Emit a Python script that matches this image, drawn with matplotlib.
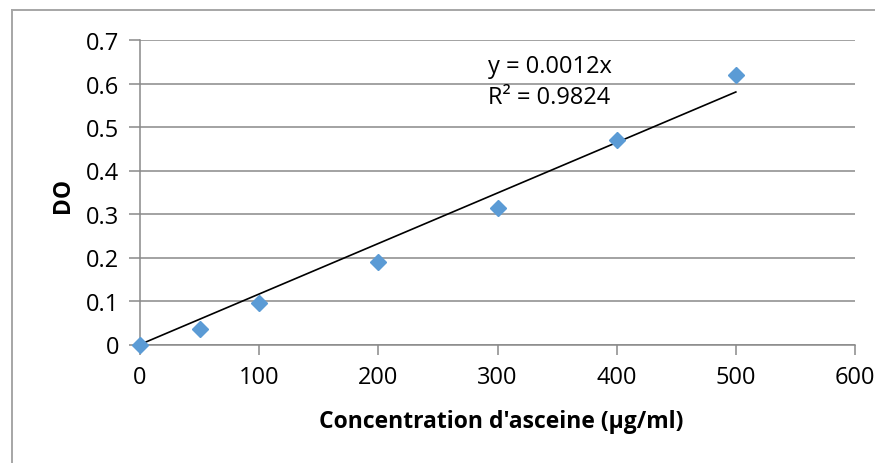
import matplotlib
matplotlib.use("Agg")
import matplotlib.pyplot as plt
from matplotlib.lines import Line2D
import numpy as np

plt.rcParams['font.family'] = ['Open Sans', 'DejaVu Sans']

concentration = [0, 50, 100, 200, 300, 400, 500]
do_values = [0.0, 0.035, 0.095, 0.19, 0.314, 0.47, 0.62]
x_ticks = [0, 100, 200, 300, 400, 500, 600]
y_ticks = [0, 0.1, 0.2, 0.3, 0.4, 0.5, 0.6, 0.7]
y_tick_labels = ['0', '0.1', '0.2', '0.3', '0.4', '0.5', '0.6', '0.7']
equation_text = "y = 0.0012x"
r2_text = "R\u00b2 = 0.9824"
x_label = "Concentration d'asceine (\u00b5g/ml)"
y_label = "DO"

W, H = 875, 464
fig = plt.figure(figsize=(W / 100, H / 100), dpi=100)
ax = fig.add_axes([140 / W, 1 - 345.5 / H, (855 - 140) / W, (345.5 - 41) / H])

grid_c = '#898989'
ax.set_xlim(0, 600)
ax.set_ylim(0, 0.7)
ax.set_xticks(x_ticks)
ax.set_yticks(y_ticks)
ax.set_yticklabels(y_tick_labels)
ax.yaxis.grid(True, color=grid_c, linewidth=1.1)
ax.set_axisbelow(True)
for s in ['top', 'right']:
    ax.spines[s].set_visible(False)
for s in ['left', 'bottom']:
    ax.spines[s].set_color(grid_c)
    ax.spines[s].set_linewidth(1.1)
ax.tick_params(axis='both', colors=grid_c, labelcolor='black', labelsize=17,
               direction='out', width=1.1)
ax.tick_params(axis='y', length=8, pad=7)
ax.tick_params(axis='x', length=7, pad=8)

# trendline through origin (least squares from data)
xs = np.array(concentration, dtype=float)
ys = np.array(do_values, dtype=float)
slope = (xs * ys).sum() / (xs * xs).sum()
ax.plot([xs.min(), xs.max()], [slope * xs.min(), slope * xs.max()],
        color='black', linewidth=1.2, zorder=3)

ax.plot(concentration, do_values, linestyle='none', marker='D', markersize=8.5,
        color='#5B9BD5', markeredgecolor='#5B9BD5', zorder=4, clip_on=False)

tx = (488 - 140) / (855 - 140)
ax.text(tx, (345.5 - 67) / (345.5 - 41), equation_text, fontsize=17,
        ha='left', va='center', transform=ax.transAxes)
ax.text(tx, (345.5 - 98) / (345.5 - 41), r2_text, fontsize=17,
        ha='left', va='center', transform=ax.transAxes)

ax.set_xlabel(x_label, fontsize=16.5, fontweight='bold', va='center')
ax.set_ylabel(y_label, fontsize=16.5, fontweight='bold', va='center')
ax.xaxis.set_label_coords((501 - 140) / (855 - 140), (345.5 - 422) / (345.5 - 41))
ax.yaxis.set_label_coords((63 - 140) / (855 - 140), (345.5 - 195) / (345.5 - 41))

# outer chart border (top & left visible)
bc = '#A6A6A6'
fig.add_artist(Line2D([12 / W, 1.0], [1 - 11 / H, 1 - 11 / H], color=bc, linewidth=1.4))
fig.add_artist(Line2D([12 / W, 12 / W], [0, 1 - 11 / H], color=bc, linewidth=1.4))

fig.savefig('out.png', dpi=100, facecolor='white')
